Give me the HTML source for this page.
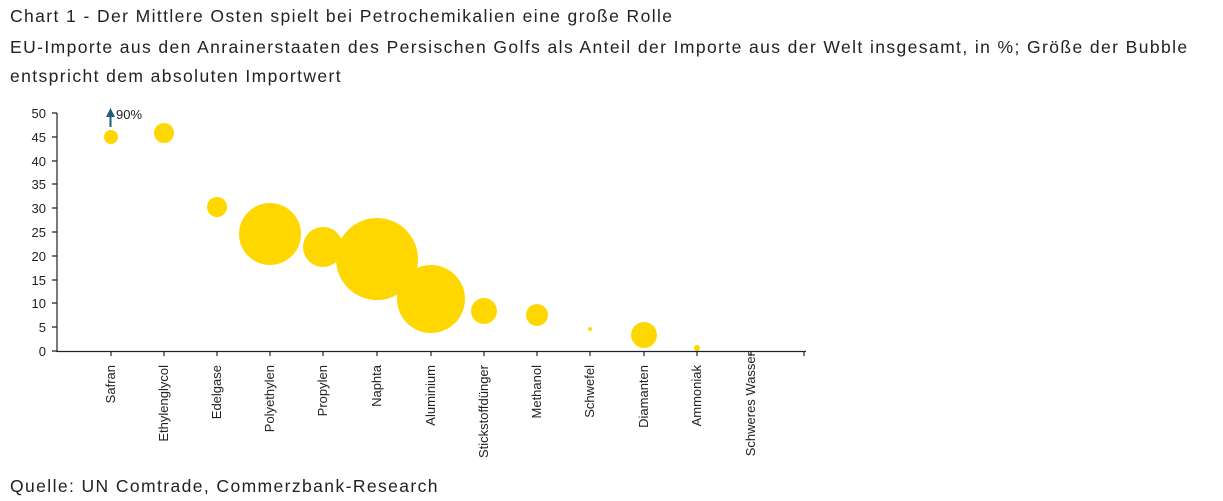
<!DOCTYPE html>
<html><head><meta charset="utf-8"><style>
body{margin:0;width:1223px;height:501px;background:#fff;font-family:"Liberation Sans",sans-serif;overflow:hidden;position:relative}
.t{position:absolute;left:10px;font-size:17.5px;letter-spacing:1.4px;color:#222;white-space:nowrap}
</style></head><body>
<div class="t" style="top:6px">Chart 1 - Der Mittlere Osten spielt bei Petrochemikalien eine große Rolle</div>
<div class="t" style="top:37px">EU-Importe aus den Anrainerstaaten des Persischen Golfs als Anteil der Importe aus der Welt insgesamt, in %; Größe der Bubble</div>
<div class="t" style="top:66px">entspricht dem absoluten Importwert</div>
<div class="t" style="top:476px">Quelle: UN Comtrade, Commerzbank-Research</div>
<svg width="1223" height="501" style="position:absolute;left:0;top:0" font-family="Liberation Sans, sans-serif">
<g fill="#ffd700">
<circle cx="111" cy="137" r="7"/><circle cx="164" cy="133" r="10"/><circle cx="217" cy="207" r="10"/>
<circle cx="270" cy="234" r="31"/><circle cx="323" cy="247" r="20"/><circle cx="377" cy="259" r="41"/>
<circle cx="431" cy="299" r="34"/><circle cx="484" cy="311" r="13"/><circle cx="537" cy="315" r="11"/>
<circle cx="590" cy="329" r="2"/><circle cx="644" cy="335" r="13"/><circle cx="697" cy="348" r="3"/>
</g>
<g stroke="#222" stroke-width="1.2" fill="none">
<line x1="57" y1="113" x2="57" y2="352"/><line x1="57" y1="351.5" x2="806" y2="351.5"/>
<path d="M52 113H57M52 137H57M52 161H57M52 184H57M52 208H57M52 232H57M52 256H57M52 280H57M52 303H57M52 327H57M52 351H57"/>
<path d="M111 351V356M164 351V356M217 351V356M270 351V356M323 351V356M377 351V356M431 351V356M484 351V356M537 351V356M590 351V356M644 351V356M697 351V356M751 351V356M804 351V356"/>
</g>
<g font-size="13" fill="#222" text-anchor="end">
<text x="46" y="118">50</text><text x="46" y="142">45</text><text x="46" y="166">40</text><text x="46" y="189">35</text>
<text x="46" y="213">30</text><text x="46" y="237">25</text><text x="46" y="261">20</text><text x="46" y="285">15</text>
<text x="46" y="308">10</text><text x="46" y="332">5</text><text x="46" y="356">0</text>
</g>
<line x1="110.5" y1="127" x2="110.5" y2="115" stroke="#1f5f7a" stroke-width="2"/>
<path d="M106 117L110.5 108L115 117Z" fill="#1f5f7a"/>
<text x="116" y="119" font-size="13" fill="#222">90%</text>
<g font-size="13" fill="#222" text-anchor="end">
<text transform="translate(115,365) rotate(-90)">Safran</text>
<text transform="translate(168,365) rotate(-90)">Ethylenglycol</text>
<text transform="translate(221,365) rotate(-90)">Edelgase</text>
<text transform="translate(274,365) rotate(-90)">Polyethylen</text>
<text transform="translate(327,365) rotate(-90)">Propylen</text>
<text transform="translate(381,365) rotate(-90)">Naphta</text>
<text transform="translate(435,365) rotate(-90)">Aluminium</text>
<text transform="translate(488,365) rotate(-90)">Stickstoffdünger</text>
<text transform="translate(541,365) rotate(-90)">Methanol</text>
<text transform="translate(594,365) rotate(-90)">Schwefel</text>
<text transform="translate(648,365) rotate(-90)">Diamanten</text>
<text transform="translate(701,365) rotate(-90)">Ammoniak</text>
<text transform="translate(755,352) rotate(-90)">Schweres Wasser</text>
</g>
</svg>
</body></html>
